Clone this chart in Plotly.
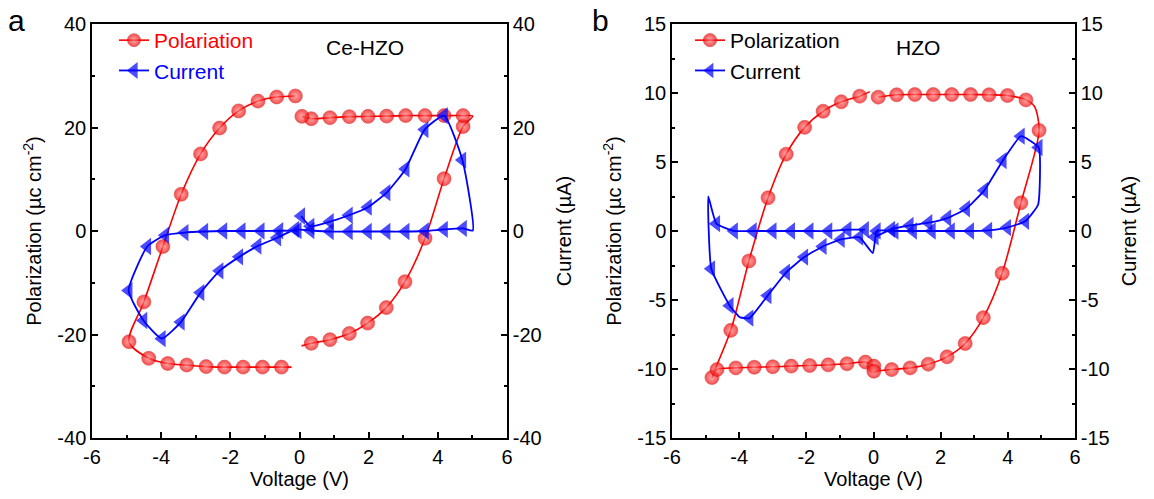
import plotly.graph_objects as go
from plotly.subplots import make_subplots

# ---------------- data ----------------
# Panel a (Ce-HZO)
a_pol_left_v = [-0.12, -0.66, -1.20, -1.76, -2.31, -2.86, -3.42, -3.95, -4.50, -4.93,
                -4.36, -3.81, -3.26, -2.70, -2.17, -1.63, -1.07, -0.52, -0.23]
a_pol_left_p = [26.1, 25.9, 25.1, 23.2, 19.9, 14.9, 7.1, -3.0, -13.7, -21.4,
                -24.6, -25.6, -25.9, -26.2, -26.3, -26.3, -26.3, -26.3, -26.3]
a_pol_right_v = [0.06, 0.34, 0.88, 1.44, 1.97, 2.51, 3.05, 3.63, 4.18, 4.73, 5.01,
                 4.73, 4.18, 3.63, 3.07, 2.52, 1.98, 1.44, 0.88, 0.34, 0.07]
a_pol_right_p = [-22.2, -21.7, -21.0, -19.8, -17.8, -14.8, -9.8, -1.4, 10.1, 20.2, 22.2,
                 22.3, 22.3, 22.3, 22.3, 22.2, 22.15, 22.1, 21.9, 21.7, 22.15]
a_cur_v = [0.05, 0.32, 0.88, 1.43, 1.98, 2.52, 3.07, 3.62, 4.18, 4.71, 5.01,
           4.73, 4.18, 3.63, 3.07, 2.52, 1.98, 1.43, 0.88, 0.32,
           -0.12, -0.64, -1.21, -1.74, -2.31, -2.86, -3.43, -3.98, -4.51, -4.94,
           -4.40, -3.88, -3.32, -2.75, -2.20, -1.67, -1.12, -0.58, -0.05]
a_cur_i = [2.9, 0.9, 1.8, 3.05, 4.6, 7.4, 12.0, 19.6, 22.3, 13.7, 0.1,
           0.5, 0.3, 0.0, -0.1, -0.1, -0.1, -0.1, -0.1, 0.1,
           0.3, -1.3, -2.9, -5.0, -7.7, -11.9, -17.6, -20.8, -17.3, -11.5,
           -3.0, -0.8, -0.3, -0.1, 0.0, 0.0, 0.0, 0.05, 0.1]

# Panel b (HZO)
b_pol_left_v = [-0.11, -0.41, -0.96, -1.50, -2.05, -2.60, -3.14, -3.71, -4.25, -4.81,
                -4.66, -4.10, -3.55, -3.00, -2.45, -1.90, -1.35, -0.79, -0.24, 0.01]
b_pol_left_p = [10.1, 9.77, 9.36, 8.68, 7.51, 5.57, 2.41, -2.17, -7.2, -10.62,
                -10.04, -9.92, -9.87, -9.84, -9.79, -9.75, -9.70, -9.62, -9.5, -9.79]
b_pol_right_v = [0.01, 0.54, 1.09, 1.63, 2.19, 2.73, 3.27, 3.83, 4.39, 4.93, 4.79,
                 4.54, 3.99, 3.44, 2.89, 2.33, 1.78, 1.23, 0.69, 0.14]
b_pol_right_p = [-10.16, -10.04, -9.92, -9.65, -9.12, -8.15, -6.28, -3.06, 2.04, 7.29, 9.04,
                 9.5, 9.82, 9.87, 9.89, 9.89, 9.89, 9.89, 9.87, 9.70]
b_cur_v = [0.04, 0.53, 1.08, 1.64, 2.20, 2.76, 3.30, 3.85, 4.39, 4.92, 4.90,
           4.52, 3.98, 3.42, 2.88, 2.31, 1.74, 1.18, 0.63, 0.10, -0.02,
           -0.42, -0.97, -1.51, -2.06, -2.60, -3.15, -3.69, -3.97, -4.28, -4.83,
           -4.92, -4.68, -4.15, -3.59, -3.00, -2.45, -1.90, -1.34, -0.77, -0.25]
b_cur_i = [-0.43, 0.12, 0.4, 0.6, 0.94, 1.61, 2.94, 5.1, 6.87, 6.05, 1.9,
           0.7, 0.25, 0.05, 0.0, 0.0, 0.0, 0.0, 0.0, 0.0, -1.6,
           -0.45, -0.61, -1.12, -1.89, -2.99, -4.68, -6.31, -6.26, -5.41, -2.74,
           2.5, 0.53, 0.0, 0.0, 0.0, 0.0, 0.0, 0.0, 0.1, 0.1]

x_ticks = [-6, -4, -2, 0, 2, 4, 6]
a_y_ticks = [-40, -20, 0, 20, 40]
b_y_ticks = [-15, -10, -5, 0, 5, 10, 15]

# points of each path that carry no symbol (line vertices only)
a_pol_unmarked = {18, 20, 30}          # indices in joined polarization path
a_cur_unmarked = {10}
b_pol_unmarked = {0, 31}
b_cur_unmarked = {10, 20, 28, 31}

# ---------------- build ----------------
FONT = "Arial, Liberation Sans, sans-serif"
RED = "#ff0000"
BLUE = "#0000ff"
FS = 20
LFS = 21


def join(v1, p1, v2, p2):
    return v1 + [None] + v2, p1 + [None] + p2


def sizes(n, unmarked, s):
    return [0 if i in unmarked else s for i in range(n)]


fig = make_subplots(rows=1, cols=2, specs=[[{"secondary_y": True}, {"secondary_y": True}]])

av, ap = join(a_pol_left_v, a_pol_left_p, a_pol_right_v, a_pol_right_p)
bv, bp = join(b_pol_left_v, b_pol_left_p, b_pol_right_v, b_pol_right_p)

ball = dict(color="#f00000", gradient=dict(type="radial", color="#ff8c8c"),
            line=dict(width=0.6, color="#d00000"))

fig.add_trace(go.Scatter(x=av, y=ap, mode="lines+markers", connectgaps=False,
                         name="<span style='color:#ff0000'>Polariation</span>",
                         line=dict(color=RED, width=1.6, shape="spline", smoothing=0.8),
                         marker=dict(symbol="circle", size=sizes(len(av), a_pol_unmarked, 14), **ball),
                         legend="legend"), row=1, col=1, secondary_y=False)
fig.add_trace(go.Scatter(x=a_cur_v, y=a_cur_i, mode="lines+markers",
                         name="<span style='color:#0000ff'>Current</span>",
                         line=dict(color=BLUE, width=1.8, shape="spline", smoothing=0.5),
                         marker=dict(symbol="triangle-left", size=sizes(len(a_cur_v), a_cur_unmarked, 15),
                                     color=BLUE, line=dict(width=0)),
                         legend="legend"), row=1, col=1, secondary_y=True)

fig.add_trace(go.Scatter(x=bv, y=bp, mode="lines+markers", connectgaps=False,
                         name="Polarization",
                         line=dict(color=RED, width=1.6, shape="spline", smoothing=0.8),
                         marker=dict(symbol="circle", size=sizes(len(bv), b_pol_unmarked, 14), **ball),
                         legend="legend2"), row=1, col=2, secondary_y=False)
fig.add_trace(go.Scatter(x=b_cur_v, y=b_cur_i, mode="lines+markers",
                         name="Current",
                         line=dict(color=BLUE, width=1.8, shape="spline", smoothing=0.4),
                         marker=dict(symbol="triangle-left", size=sizes(len(b_cur_v), b_cur_unmarked, 15),
                                     color=BLUE, line=dict(width=0)),
                         legend="legend2"), row=1, col=2, secondary_y=True)

W, H = 1154, 499
ax_font = dict(family=FONT, size=FS, color="black")


def xa(dom):
    return dict(domain=dom, range=[-6, 6], tickvals=x_ticks, ticktext=[str(t) for t in x_ticks],
                ticks="inside", ticklen=6, tickwidth=1.5, tickcolor="black",
                minor=dict(dtick=1, tick0=-6, ticks="inside", ticklen=3.5, tickwidth=1.5, tickcolor="black"),
                showline=True, linewidth=1.5, linecolor="black", mirror=True,
                showgrid=False, zeroline=False, tickfont=ax_font, automargin=False,
                title=dict(text="Voltage (V)", font=ax_font, standoff=2))


def ya(rng, tv, minor_dt, title, side, anchor, standoff, overlay=None):
    d = dict(range=rng, tickvals=tv, ticktext=[str(t) for t in tv],
             ticks="inside", ticklen=6, tickwidth=1.5, tickcolor="black",
             minor=dict(dtick=minor_dt, tick0=rng[0], ticks="inside", ticklen=3.5, tickwidth=1.5,
                        tickcolor="black"),
             showline=True, linewidth=1.5, linecolor="black",
             showgrid=False, zeroline=False, tickfont=ax_font, side=side, anchor=anchor,
             automargin=False,
             title=dict(text=title, font=ax_font, standoff=standoff),
             domain=[1 - 438 / H, 1 - 24 / H])
    if overlay:
        d["overlaying"] = overlay
    return d


pol_title = "Polarization (µc cm<sup>-2</sup>)"
cur_title = "Current (µA)"

fig.update_layout(
    width=W, height=H, margin=dict(l=0, r=0, t=0, b=0, autoexpand=False),
    paper_bgcolor="white", plot_bgcolor="white",
    font=dict(family=FONT, size=FS, color="black"),
    xaxis=xa([92 / W, 507 / W]),
    xaxis2=xa([672 / W, 1075 / W]),
    yaxis=ya([-40, 40], a_y_ticks, 10, pol_title, "left", "x", 10),
    yaxis2=ya([-40, 40], a_y_ticks, 10, cur_title, "right", "x", 16, "y"),
    yaxis3=ya([-15, 15], b_y_ticks, 2.5, pol_title, "left", "x2", 10),
    yaxis4=ya([-15, 15], b_y_ticks, 2.5, cur_title, "right", "x2", 13, "y3"),
    legend=dict(x=114 / W, y=1 - 20 / H, xanchor="left", yanchor="top", bgcolor="rgba(0,0,0,0)",
                font=dict(family=FONT, size=LFS), tracegroupgap=0, itemwidth=30),
    legend2=dict(x=690 / W, y=1 - 20 / H, xanchor="left", yanchor="top", bgcolor="rgba(0,0,0,0)",
                 font=dict(family=FONT, size=LFS, color="black"), tracegroupgap=0, itemwidth=30),
    annotations=[
        dict(text="Ce-HZO", x=365 / W, y=1 - 48 / H, xref="paper", yref="paper", showarrow=False,
             xanchor="center", yanchor="middle", font=dict(family=FONT, size=21, color="black")),
        dict(text="HZO", x=918 / W, y=1 - 48 / H, xref="paper", yref="paper", showarrow=False,
             xanchor="center", yanchor="middle", font=dict(family=FONT, size=21, color="black")),
        dict(text="a", x=16 / W, y=1 - 20 / H, xref="paper", yref="paper", showarrow=False,
             xanchor="center", yanchor="middle", font=dict(family=FONT, size=30, color="black")),
        dict(text="b", x=600 / W, y=1 - 20 / H, xref="paper", yref="paper", showarrow=False,
             xanchor="center", yanchor="middle", font=dict(family=FONT, size=30, color="black")),
    ],
    showlegend=True,
)

fig.write_html("out.html")
